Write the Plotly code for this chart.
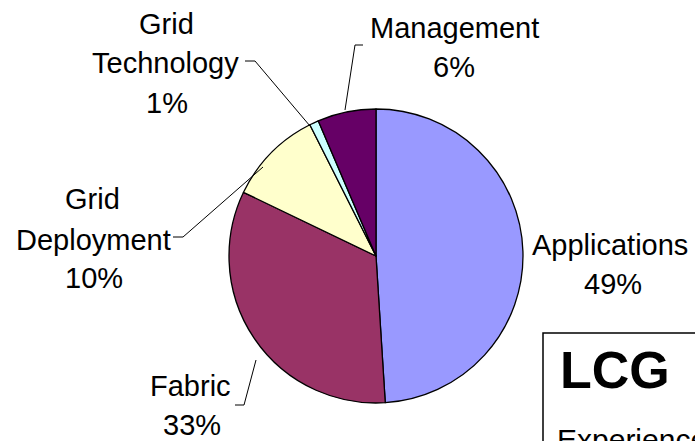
import plotly.graph_objects as go

W, H = 695, 441

categories = ['Applications', 'Fabric', 'Grid Deployment', 'Grid Technology', 'Management']
shares = [48.8, 33.0, 10.4, 1.0, 6.4]
colors = ['#9999FF', '#993366', '#FFFFCC', '#CCFFFF', '#660066']


def px(x, y):
    # pixel position -> paper coordinates
    return x / W, 1 - y / H


fig = go.Figure(go.Pie(
    labels=categories, values=shares, sort=False, direction='clockwise',
    rotation=0, textinfo='none', hoverinfo='label+percent',
    marker=dict(colors=colors, line=dict(color='black', width=1.3)),
    domain=dict(x=[229 / W, 523 / W], y=[1 - 403 / H, 1 - 109 / H]),
    showlegend=False,
))

total = sum(shares)
pct = {c: f'{v / total:.0%}' for c, v in zip(categories, shares)}

# label lines: (text, x center, y center) in pixels
label_lines = [
    ('Grid', 166, 24), ('Technology', 165, 63), (pct['Grid Technology'], 167, 103),
    ('Management', 454, 28), (pct['Management'], 454, 67),
    ('Grid', 92, 199), ('Deployment', 93, 240), (pct['Grid Deployment'], 94, 278),
    ('Applications', 610, 245), (pct['Applications'], 613, 284),
    ('Fabric', 191, 386), (pct['Fabric'], 192, 425),
]

annotations = []
for text, x, y in label_lines:
    ax, ay = px(x, y)
    annotations.append(dict(
        x=ax, y=ay, xref='paper', yref='paper', text=text, showarrow=False,
        xanchor='center', yanchor='middle',
        font=dict(family='Liberation Sans, Arial', size=29, color='black')))

annotations.append(dict(
    x=px(558, 0)[0], y=px(0, 370)[1], xref='paper', yref='paper', text='<b>LCG</b>',
    showarrow=False, xanchor='left', yanchor='middle',
    font=dict(family='Liberation Sans, Arial', size=52, color='black')))
annotations.append(dict(
    x=px(555, 0)[0], y=px(0, 439)[1], xref='paper', yref='paper', text='Experience',
    showarrow=False, xanchor='left', yanchor='middle',
    font=dict(family='Liberation Sans, Arial', size=30, color='black')))

# leader lines in pixels
leaders = [
    [(245, 61), (255, 61), (310, 126)],
    [(363, 45), (355, 45), (345, 110)],
    [(173, 237), (183, 237), (263, 167)],
    [(235, 405), (244, 405), (256, 360)],
]

shapes = []
for pts in leaders:
    for (x0, y0), (x1, y1) in zip(pts[:-1], pts[1:]):
        a0, b0 = px(x0, y0)
        a1, b1 = px(x1, y1)
        shapes.append(dict(type='line', xref='paper', yref='paper',
                           x0=a0, y0=b0, x1=a1, y1=b1,
                           line=dict(color='black', width=1)))

bx0, by0 = px(543, 333)
bx1, by1 = px(760, 480)
shapes.append(dict(type='rect', xref='paper', yref='paper',
                   x0=bx0, y0=by0, x1=bx1, y1=by1,
                   line=dict(color='black', width=1.5), fillcolor='white', layer='below'))

fig.update_layout(
    width=W, height=H, margin=dict(l=0, r=0, t=0, b=0),
    paper_bgcolor='white', plot_bgcolor='white',
    annotations=annotations, shapes=shapes,
)

fig.write_html('out.html', config={'displayModeBar': False},
               post_script="document.body.style.margin='0';document.body.style.overflow='hidden';")
